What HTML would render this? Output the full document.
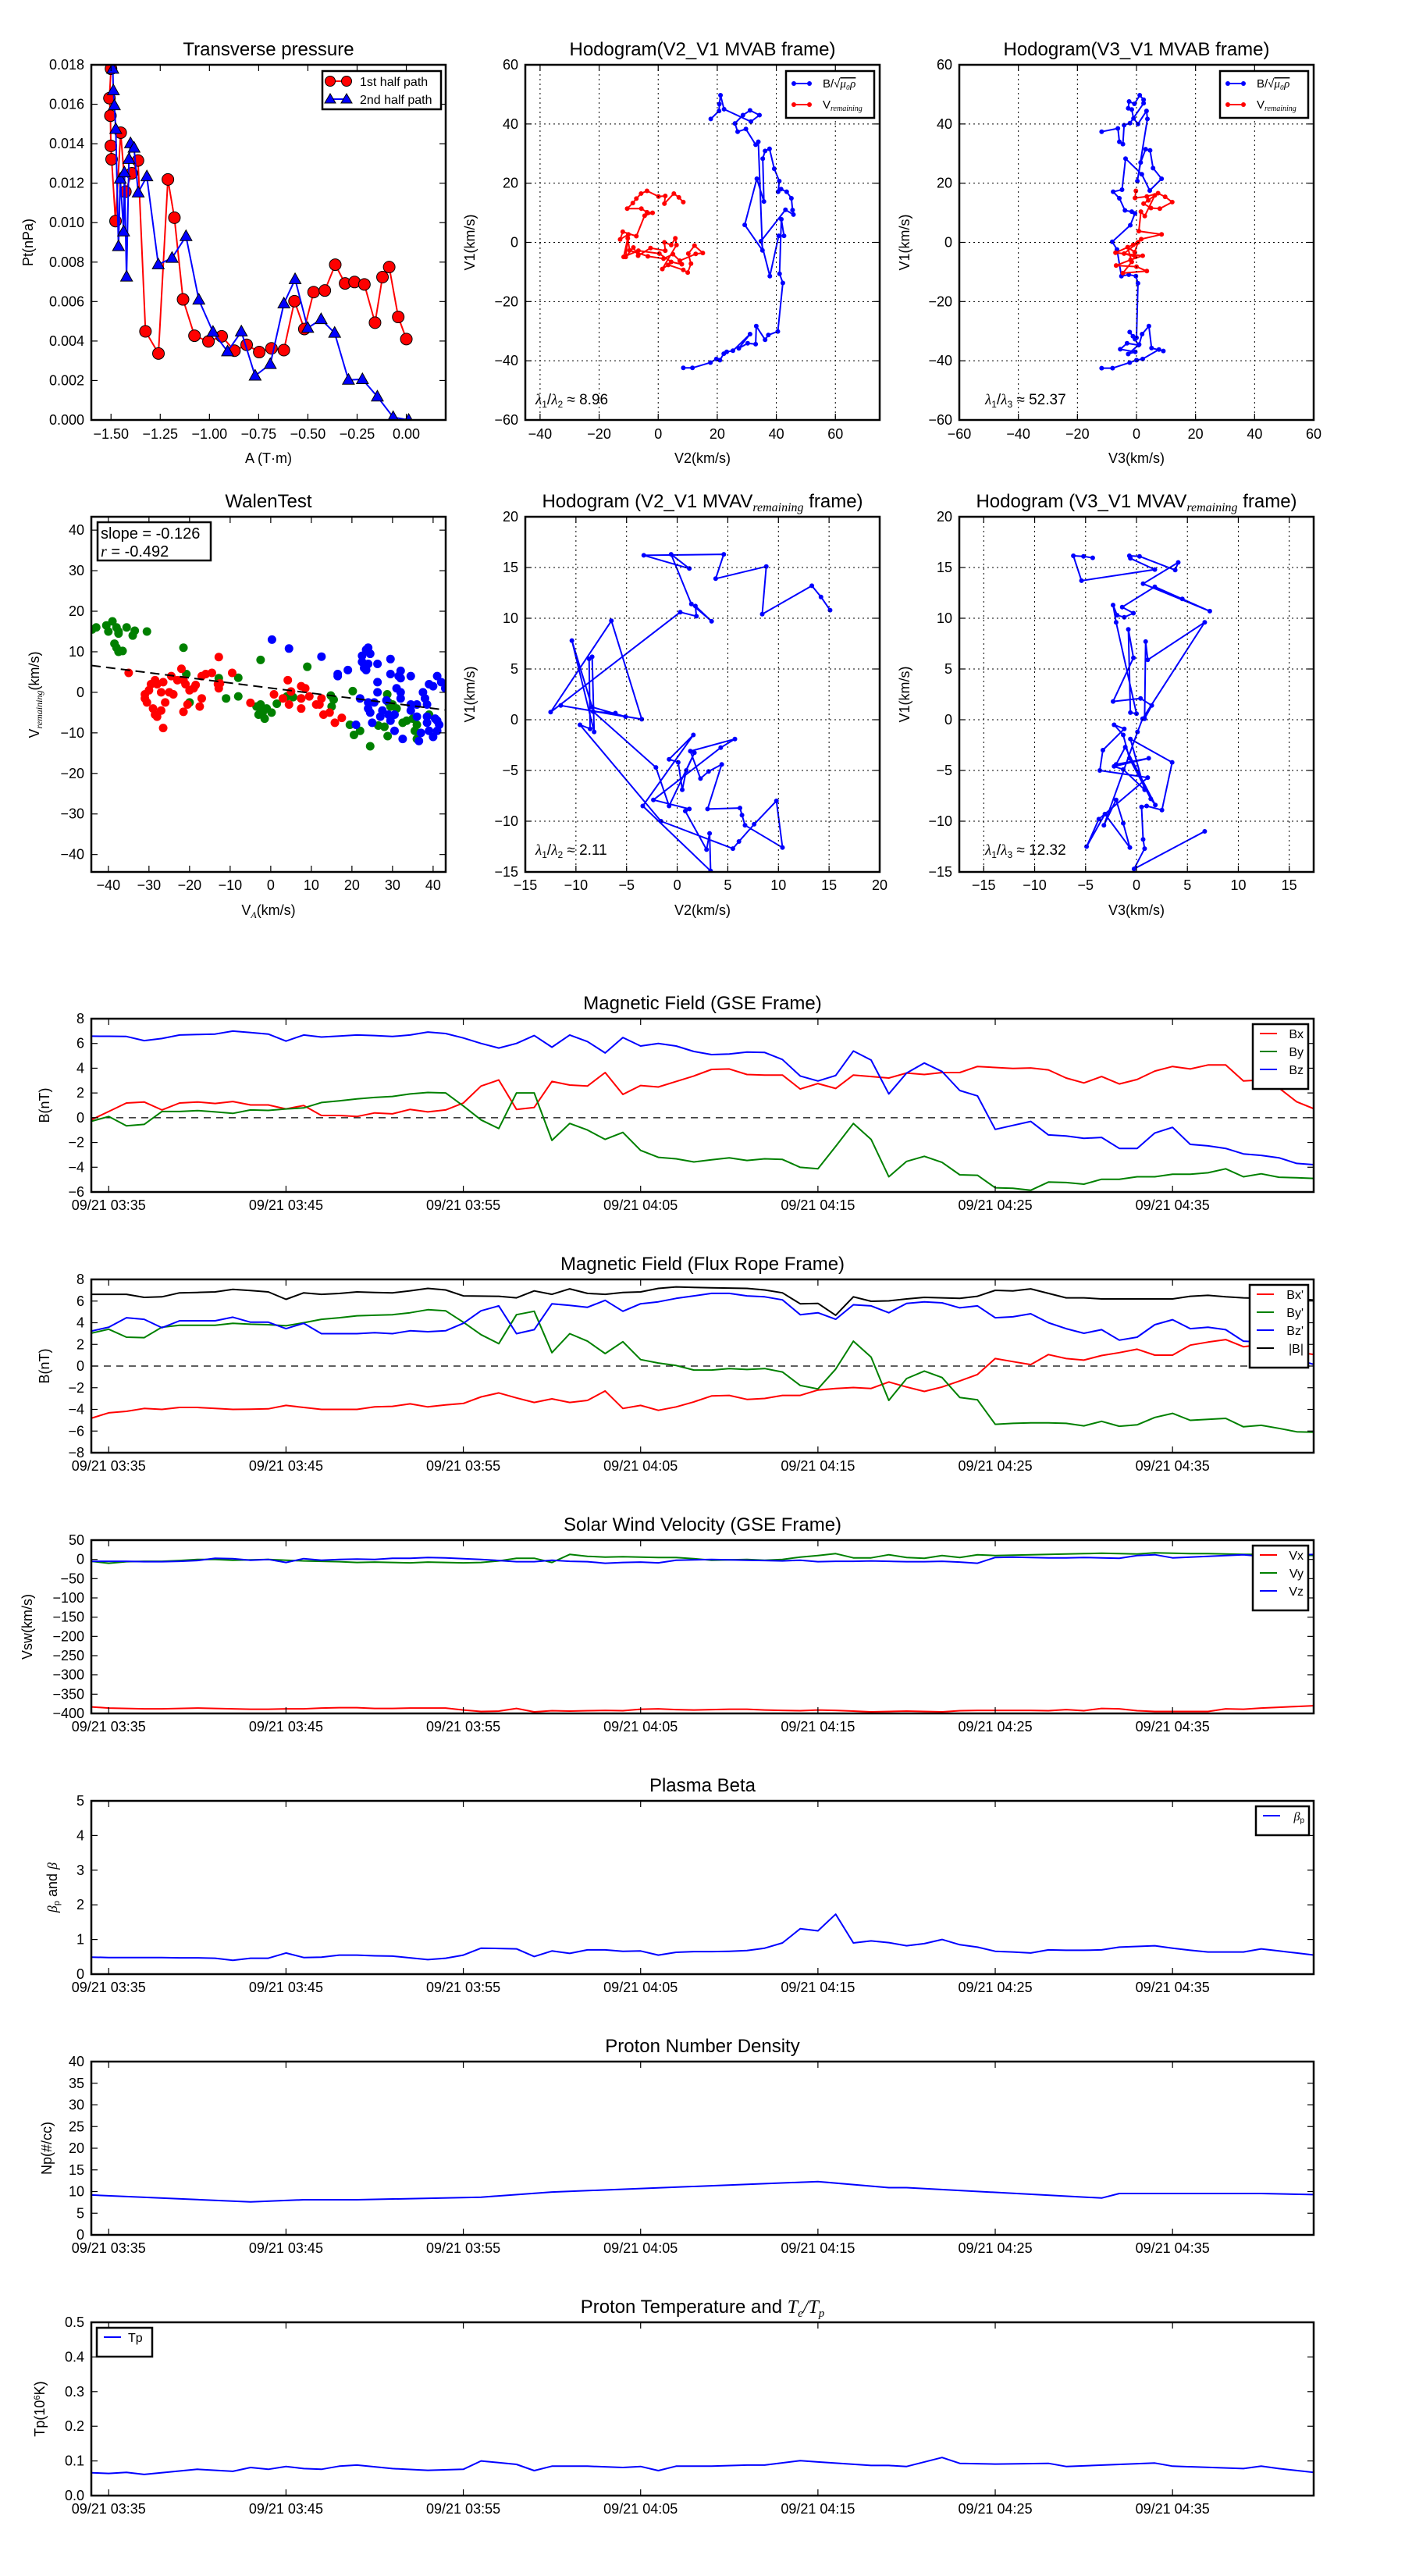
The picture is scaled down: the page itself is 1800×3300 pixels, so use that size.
<!DOCTYPE html>
<html><head><meta charset="utf-8"><style>
html,body{margin:0;padding:0;background:#fff}
svg{display:block;font-family:"Liberation Sans",sans-serif}
</style></head><body>
<svg id="fig" xmlns="http://www.w3.org/2000/svg" width="1800" height="3300" viewBox="0 0 1800 3300"></svg>
<script>
// ---------- DATA ----------
// Transverse pressure
const ptRedA=[-1.5,-1.508,-1.503,-1.501,-1.497,-1.477,-1.451,-1.427,-1.394,-1.363,-1.325,-1.259,-1.211,-1.178,-1.134,-1.076,-1.005,-0.938,-0.873,-0.811,-0.747,-0.685,-0.622,-0.568,-0.518,-0.471,-0.414,-0.361,-0.311,-0.263,-0.213,-0.159,-0.121,-0.087,-0.041,0];
const ptRedP=[0.0178,0.01631,0.01542,0.01389,0.01321,0.01008,0.01456,0.01157,0.0125,0.01315,0.00449,0.00337,0.01219,0.01025,0.00611,0.00427,0.00398,0.00424,0.00351,0.00381,0.00344,0.00363,0.00354,0.00602,0.00461,0.00648,0.00656,0.00787,0.00692,0.00699,0.00687,0.00493,0.00724,0.00775,0.00522,0.0041];
const ptBlueA=[-1.491,-1.488,-1.483,-1.476,-1.462,-1.453,-1.436,-1.432,-1.421,-1.409,-1.401,-1.383,-1.362,-1.318,-1.26,-1.19,-1.119,-1.054,-0.982,-0.908,-0.838,-0.768,-0.691,-0.622,-0.565,-0.501,-0.433,-0.364,-0.294,-0.223,-0.147,-0.067,0.012];
const ptBlueP=[0.01779,0.0167,0.01594,0.01474,0.0088,0.01222,0.00955,0.01254,0.00726,0.01322,0.01402,0.01379,0.01152,0.01234,0.00788,0.00821,0.00931,0.00609,0.00446,0.00347,0.00448,0.00224,0.00283,0.0059,0.00713,0.00466,0.0051,0.00441,0.00203,0.00206,0.00118,0.00014,0];
const ptXTicks=[-1.5,-1.25,-1,-0.75,-0.5,-0.25,0];
const ptYTicks=[0,0.002,0.004,0.006,0.008,0.010,0.012,0.014,0.016,0.018];
// Hodogram V2-V1 MVAB
const h1BV2=[8.5,11.6,17.7,19.7,20.9,22.2,23.2,25.3,31.1,27.3,30.3,33.0,33.2,36.2,37.3,40.5,42.2,41.1,41.7,42.6,40.8,37.8,34.8,43.1,45.8,45.5,45.1,43.5,41.6,40.6,41.0,39.3,37.7,36.2,35.4,35.8,33.4,29.3,35.3,33.9,33.0,29.7,26.9,26.0,28.7,31.1,34.3,31.4,22.3,21.1,20.7,20.6,17.8];
const h1BV1=[-42.4,-42.4,-40.6,-39.4,-39.8,-37.6,-37.0,-36.6,-31.0,-35.8,-34.1,-34.4,-28.3,-32.9,-31.3,-30.1,-13.7,-10.6,7.8,2.2,2.2,-11.4,0.4,11.0,9.4,10.9,14.9,17.1,18.0,17.1,20.7,24.9,31.6,30.9,28.3,13.8,21.5,5.9,-2.7,34.0,33.0,38.3,37.4,40.2,43.0,44.6,43.0,40.8,45.0,49.7,46.7,44.4,41.7];
const h1VV2=[8.5,7.0,5.3,2.1,2.4,0.1,-3.8,-5.8,-7.4,-8.6,-10.5,-5.7,-3.8,-1.9,-4.6,-7.4,-12.0,-12.9,-10.1,-11.0,-8.4,-6.8,-2.6,2.4,2.1,4.4,5.8,6.2,1.4,3.4,8.5,10.0,11.1,10.2,12.3,15.1,12.7,7.3,5.0,1.8,-3.5,-9.7,-10.3,-11.7,-6.7,0.4,4.4,8.0];
const h1VV1=[13.6,15.2,16.5,13.1,15.7,15.5,17.4,16.5,14.8,13.3,11.4,11.4,10.2,10.0,9.0,2.1,3.6,1.0,2.7,-4.9,-1.7,-4.5,-1.9,-2.8,0,-0.9,1.4,-0.9,-9.0,-7.6,-9.3,-10.2,-7.2,-3.8,-1.1,-3.6,-3.9,-6.2,-4.0,-5.5,-4.7,-2.7,1.4,-4.9,-2.8,-3.8,-6.6,-7.4];
// Hodogram V3-V1 MVAB
const h2BV3=[-11.8,-8.1,-2.3,0,2.1,7.6,9.1,5.1,4.2,1.9,0.9,-2.8,-0.4,-5.5,-3.2,0.7,-0.5,-2.3,-1.2,0,0.5,-0.2,-2.6,-5.1,-6.6,-8.2,-2.1,-0.5,-1.6,-3.9,-5.8,-7.9,-4.9,-3.7,1.8,4.5,8.5,5.6,4.6,3.1,1.4,0.3,3.7,3.4,0.5,-1.0,-1.6,-2.8,-2.5,-0.7,1.1,2.4,2.4,-2.2,-4.2,-4.6,-5.8,-6.3,-11.8];
const h2BV1=[-42.5,-42.5,-40.6,-39.8,-39.4,-36.2,-36.7,-35.7,-28.3,-31.0,-34.5,-37.7,-37.0,-36.1,-34.1,-34.7,-32.7,-30.3,-31.7,-32.2,-13.8,-11.4,-10.9,-11.4,-2.4,0.2,5.8,9.8,10.4,10.8,14.9,17.1,17.8,28.3,23.0,17.5,21.5,25.1,31.1,31.5,27.0,20.7,41.7,44.4,40.0,41.9,44.9,45.3,47.6,46.8,49.7,48.2,47.0,40.3,39.6,33.2,34.0,38.5,37.4];
const h2VV3=[-0.2,-0.5,3.5,7.3,9.7,12.1,7.9,4.9,2.4,4.0,6.2,2.8,1.5,0.8,8.5,1.6,-1.1,-7.1,2.1,-2.0,-6.9,0,3.5,-4.6,-1.6,-3.0,-0.6,0.5,-4.2,-0.4];
const h2VV1=[17.4,15.0,15.5,16.6,15.4,13.6,11.4,11.6,13.1,14.2,15.9,8.9,10.4,3.8,2.7,1.1,-0.8,-3.5,-4.5,-5.9,-7.8,-8.2,-9.7,-10.4,-6.6,-1.6,-3.3,0,-3.8,-4.9];
// Walen test
const walGreenX=[-44,-43,-40.5,-40,-39,-38,-37.5,-37.5,-38.5,-38,-37.5,-36.5,-35.5,-34,-33.5,-30.5,-21.5,-20.8,-20,-12.8,-11,-8,-8,-2.5,-3.5,-2.5,-2,-3,-1.5,-2,-1,0.2,1.5,4,5.5,7.5,9,14.8,15.5,15,19.5,20.2,20.5,22,24.5,26.5,28,28.7,29,28.8,29.5,30,31,32.5,33.5,35,35.5,36,36,39];
const walGreenY=[15.5,16,16.5,15,17.5,16,15,14.5,12,11,10,10.2,16,14,15.2,15,11,4.5,-2.5,3.5,-1.5,3.6,-1,8,-3.5,-3,-4.5,-5.5,-6.5,-5,-4,-5,-2.8,-1,-1.2,-1.5,6.3,-0.8,-1.8,-3.5,-8,0.3,-10.5,-9.5,-13.3,-8.2,-8.5,-0.5,-2.5,-10.8,-3.5,-3,-4,-7.5,-7,-6.5,-9.5,-8,-11.5,-5.5];
const walRedX=[-35,-31,-31,-30.5,-30,-29.5,-28.5,-28,-29,-28.5,-28,-27,-26.5,-26,-26.5,-27,-25,-24,-24.5,-23,-22,-21.5,-21,-21.5,-20.5,-20,-19,-18.5,-17,-17,-17.5,-16,-14.5,-13,-12.5,-12.8,-12.8,-9.5,-5,0.8,4.2,4.5,7.5,8.5,7.5,7.5,9.5,11.2,12,12.5,13,14.5,15.8,17.5,3,5];
const walRedY=[4.8,-0.5,-1.5,-2.5,0.5,2,3,2,-4,-5.5,-6,-4.5,-8.8,-2.5,2.5,0,0,-0.5,4,3,5.8,3,2,-4.8,-3,0.5,1,1.8,4,-1.5,-3.5,4.5,4.8,2,2.2,8.7,1,4.8,-2.6,-0.5,3,-3,1.5,1,-1.5,-4,-1,-3,-3,-1.5,-5.5,-5,-7.5,-6.3,-1.5,0.2];
const walBlueX=[0.3,4.5,12.5,16.5,16.5,19,22,21,22.5,22.5,23,23.5,24,24.5,24,23.5,24,24,24.5,25,25.5,26.3,26.3,26.3,27,27.5,28.5,29,29.5,29.5,29.5,30.5,30.5,31,31.5,32,32,32,32,32.5,34.5,34.5,34.5,36,36,37,36.5,37.5,38,38.5,38.5,38.5,39,39,40,40,40.5,41,41,41,41.5,42,43];
const walBlueY=[13,10.8,8.8,4.5,4,5.5,-1.5,-8,9,7.5,6,10.5,11,9.5,7,5.5,-2.5,-4,-5,-7.5,-2.5,7,2.5,0,-6,-4.5,-2,-5.5,8.2,4.5,-7,-5.5,-9.5,1,4,5.3,3.5,0,-1.5,-11.5,4,-3,-4.5,-3,-6,-10,-12,0,-1.5,-3,-6,-7.5,-9.5,2,-11,1.5,-6.5,4,-7,-9.5,-8,2.5,1];
const walFit=[-0.126,1.06];
const walTicks=[-40,-30,-20,-10,0,10,20,30,40];
// Hodogram MVAV V2-V1
const h3V2=[15.1,14.2,13.3,8.4,8.8,3.8,4.6,-3.3,1.2,-0.6,1.4,3.4,1.8,1.9,0.3,-12.5,-6.5,-3.5,-11.5,-5.1,-8.4,-10.4,-8.2,-8.4,-8.7,-8.6,-9.6,-1.6,5.5,6.1,7.6,9.8,10.4,6.7,6.4,6.2,3.0,4.4,3.1,2.3,1.3,5.7,4.3,-2.35,1.2,0.8,2.9,3.2,3.3,-3.4,1.6,-0.8,0.1,0.5,0.9,1.7,-0.8,-2.1,-8.3,-6.1];
const h3V1=[10.8,12.1,13.2,10.4,15.1,13.9,16.3,16.2,14.9,16.3,11.4,9.7,11.2,10.2,10.6,0.75,9.75,0.05,1.4,0.3,1.25,7.8,-1.2,6.2,6.0,-0.9,-0.5,-10.0,-12.7,-12.0,-10.3,-8.0,-12.6,-10.4,-9.4,-8.7,-8.8,-4.4,-5.1,-5.8,-3.1,-1.9,-2.75,-7.9,-8.8,-9.0,-12.8,-11.2,-14.9,-8.5,-1.5,-3.9,-4.2,-6.9,-5.0,-3.25,-8.5,-4.7,0.8,0.65];
// Hodogram MVAV V3-V1
const h4V3=[6.7,-0.24,0.8,0.65,0.5,1.0,2.5,3.5,-0.6,0.8,-1.3,-2.2,1.2,-2.0,-1.1,1.85,1.4,-0.7,-1.3,-2.2,-1.2,-3.3,-3.6,1.1,-3.7,-4.9,-3.1,-0.65,-1.3,-2.0,-3.2,0.1,0.6,6.7,1.1,0.9,0.8,1.5,0.4,-2.3,-0.3,-0.8,-0.6,0,-2.0,-2.3,-1.9,-1.2,-0.3,-1.4,1.8,4.5,7.2,0.65,4.1,3.8,0.3,-0.7,-0.6,1.8,-5.4,-6.2,-5.2,-4.3];
const h4V1=[-11.0,-14.7,-12.7,-11.8,-8.6,-8.5,-8.9,-4.2,-1.9,-6.9,-4.9,-4.6,-3.8,-4.4,-2.7,-8.4,-7.8,-3.8,-1.5,-0.5,-0.9,-3.0,-5.0,-5.7,-9.8,-12.5,-9.3,-12.6,-10.2,-7.9,-10.4,-1.2,0.1,9.6,5.9,7.7,0.1,1.4,2.1,1.8,6.1,8.9,0.7,0.6,9.6,11.3,10.3,10.1,10.5,11.1,13.1,11.9,10.7,13.4,15.5,14.75,16.1,16.15,15.9,14.8,13.7,16.15,16.1,15.95];
// Time series (minutes from 03:35, 1-min cadence k=-1..68)
const tsMinutes=[-1,0,1,2,3,4,5,6,7,8,9,10,11,12,13,14,15,16,17,18,19,20,21,22,23,24,25,26,27,28,29,30,31,32,33,34,35,36,37,38,39,40,41,42,43,44,45,46,47,48,49,50,51,52,53,54,55,56,57,58,59,60,61,62,63,64,65,66,67,68];
const timeTicks=[0,10,20,30,40,50,60];
const timeTickLabels=["09/21 03:35","09/21 03:45","09/21 03:55","09/21 04:05","09/21 04:15","09/21 04:25","09/21 04:35"];
const gseBx=[-0.18,0.5,1.19,1.27,0.63,1.19,1.27,1.15,1.31,1.03,1.03,0.71,0.99,0.18,0.18,0.1,0.39,0.31,0.67,0.47,0.63,1.19,2.56,3.05,0.67,0.83,2.93,2.64,2.56,3.65,1.88,2.6,2.48,2.93,3.37,3.9,3.94,3.49,3.45,3.45,2.32,2.76,2.36,3.45,3.33,3.21,3.61,3.49,3.65,3.65,4.14,4.06,3.98,4.02,3.86,3.21,2.81,3.33,2.73,3.09,3.77,4.14,3.94,4.26,4.26,2.97,3.05,2.4,1.29,0.71];
const gseBy=[-0.3,0.1,-0.66,-0.54,0.5,0.5,0.58,0.47,0.35,0.63,0.59,0.71,0.79,1.23,1.36,1.52,1.64,1.72,1.92,2.04,2.0,0.95,-0.18,-0.87,2.0,2.0,-1.83,-0.46,-0.99,-1.75,-1.19,-2.64,-3.2,-3.32,-3.57,-3.4,-3.24,-3.45,-3.32,-3.37,-4.01,-4.13,-2.32,-0.46,-1.75,-4.77,-3.53,-3.12,-3.61,-4.61,-4.65,-5.66,-5.7,-5.86,-5.2,-5.24,-5.37,-4.97,-4.97,-4.77,-4.77,-4.57,-4.57,-4.45,-4.13,-4.77,-4.53,-4.81,-4.85,-4.9];
const gseBz=[6.59,6.58,6.56,6.23,6.4,6.68,6.72,6.76,7.0,6.88,6.76,6.19,6.68,6.52,6.6,6.68,6.64,6.56,6.68,6.92,6.8,6.44,6.0,5.63,6.0,6.64,5.7,6.68,6.15,5.23,6.48,5.79,6.0,5.79,5.35,5.1,5.15,5.31,5.27,4.7,3.37,2.97,3.41,5.39,4.66,1.92,3.61,4.42,3.73,2.2,1.76,-0.94,-0.62,-0.3,-1.39,-1.47,-1.67,-1.59,-2.48,-2.48,-1.23,-0.78,-2.15,-2.27,-2.48,-2.92,-3.04,-3.24,-3.69,-3.8];
const frBx=[-4.83,-4.32,-4.18,-3.91,-4.0,-3.82,-3.82,-3.91,-4.0,-3.98,-3.95,-3.63,-3.82,-4.0,-4.0,-4.0,-3.77,-3.72,-3.49,-3.77,-3.59,-3.45,-2.85,-2.48,-2.94,-3.36,-3.03,-3.36,-3.17,-2.3,-3.91,-3.63,-4.09,-3.77,-3.31,-2.76,-2.71,-3.08,-2.99,-2.71,-2.71,-2.21,-2.07,-1.98,-2.07,-1.47,-1.93,-2.34,-1.93,-1.38,-0.78,0.69,0.41,0.14,1.06,0.69,0.55,0.97,1.24,1.56,1.01,1.01,1.93,2.21,2.44,1.79,1.98,1.75,1.29,1.06];
const frBy=[3.03,3.4,2.67,2.62,3.59,3.77,3.77,3.77,3.95,3.86,3.82,3.72,4.0,4.32,4.46,4.64,4.69,4.74,4.92,5.2,5.1,4.05,2.9,2.07,4.74,5.06,1.24,2.99,2.3,1.15,2.25,0.6,0.28,0.05,-0.37,-0.37,-0.23,-0.32,-0.23,-0.55,-1.79,-2.11,-0.28,2.3,0.83,-3.17,-1.15,-0.46,-1.06,-2.9,-3.12,-5.38,-5.29,-5.24,-5.24,-5.29,-5.52,-5.1,-5.56,-5.43,-4.74,-4.37,-5.01,-4.92,-4.83,-5.61,-5.47,-5.75,-6.07,-6.11];
const frBz=[3.22,3.59,4.46,4.32,3.54,4.18,4.18,4.18,4.51,4.05,4.05,3.45,3.95,2.99,2.99,2.99,3.08,2.99,3.26,3.17,3.26,3.95,5.1,5.56,2.99,3.36,5.75,5.61,5.43,6.07,5.06,5.75,5.93,6.25,6.48,6.71,6.71,6.48,6.39,6.11,4.74,4.92,4.32,5.66,5.56,4.92,5.79,5.93,5.84,5.38,5.56,4.46,4.55,4.83,4.0,3.45,3.03,3.36,2.39,2.67,3.82,4.28,3.45,3.59,3.36,2.3,2.21,1.52,0.6,0.14];
const frBmag=[6.62,6.62,6.62,6.34,6.39,6.76,6.8,6.85,7.08,6.97,6.85,6.16,6.76,6.62,6.7,6.85,6.8,6.76,6.95,7.17,7.03,6.48,6.46,6.44,6.3,6.94,6.62,7.13,6.71,6.62,6.8,6.85,7.17,7.31,7.26,7.22,7.2,7.17,7.03,6.76,5.75,5.79,4.69,6.39,5.98,6.02,6.2,6.34,6.3,6.25,6.44,6.99,6.94,7.13,6.71,6.3,6.3,6.2,6.2,6.2,6.2,6.2,6.44,6.53,6.39,6.3,6.25,6.2,6.2,6.1];
const velVx=[-383,-386,-387,-388,-388,-387,-386,-387,-388,-389,-389,-388,-388,-386,-385,-385,-387,-387,-386,-386,-386,-391,-395,-394,-387,-396,-393,-394,-393,-392,-393,-389,-388,-390,-391,-390,-389,-389,-391,-392,-393,-391,-392,-394,-396,-395,-394,-395,-396,-393,-392,-392,-392,-392,-393,-390,-393,-387,-388,-393,-395,-395,-395,-395,-388,-389,-386,-384,-382,-380];
const velVy=[-5,-10,-6,-5,-5,-3,0,0,-2,-1,0,-2,-4,-5,-6,-8,-7,-8,-9,-7,-8,-9,-8,-4,3,3,-8,13,8,6,7,6,5,5,2,-2,-1,0,-2,0,6,10,15,4,4,12,5,3,10,5,12,10,11,12,13,14,15,16,15,14,17,16,15,15,14,13,13,15,11,10];
const velVz=[-5,-5,-5,-6,-6,-5,-3,3,2,-2,0,-8,2,-2,0,1,0,3,3,5,4,2,0,-3,-6,-6,-2,-5,-6,-10,-8,-7,-9,-2,-1,0,-1,-2,-3,-4,-2,-6,-5,-5,-4,-5,-6,-6,-5,-7,-10,5,6,5,4,4,5,4,3,10,12,4,6,8,10,12,8,10,12,13];
const betaP=[0.49,0.48,0.48,0.48,0.48,0.47,0.47,0.46,0.4,0.46,0.46,0.61,0.48,0.49,0.55,0.55,0.53,0.52,0.47,0.42,0.46,0.55,0.75,0.74,0.73,0.51,0.67,0.6,0.7,0.7,0.66,0.67,0.55,0.63,0.65,0.65,0.66,0.68,0.75,0.9,1.31,1.25,1.73,0.9,0.96,0.91,0.82,0.88,1.0,0.85,0.78,0.66,0.64,0.61,0.7,0.69,0.69,0.7,0.78,0.8,0.82,0.75,0.69,0.64,0.64,0.64,0.73,0.67,0.61,0.55];
const densT=[-0.98,8,11,14,21,25,40,44,45,56,57,65,68];
const densV=[9.2,7.6,8.1,8.1,8.7,9.9,12.3,10.9,10.9,8.5,9.55,9.55,9.3];
const tempT=[-0.98,0,1,2,5,7,8,9,10,11,12,13,14,16,18,20,21,23,24,25,27,29,30,31,32,34,36,37,39,40,43,44,45,47,48,50,53,54,59,60,64,65,66,68];
const tempV=[0.066,0.064,0.067,0.061,0.076,0.07,0.081,0.076,0.084,0.078,0.076,0.085,0.088,0.078,0.073,0.076,0.1,0.09,0.072,0.085,0.085,0.081,0.084,0.072,0.085,0.085,0.088,0.088,0.101,0.097,0.087,0.087,0.084,0.11,0.093,0.091,0.093,0.084,0.094,0.085,0.078,0.085,0.078,0.067];

// ---------- DRAWING ----------
const NS="http://www.w3.org/2000/svg";
const svg=document.getElementById('fig');
function mk(tag,parent,name,attrs){
  const e=document.createElementNS(NS,tag);
  for(const k in attrs) e.setAttribute(k,attrs[k]);
  
  
  parent.appendChild(e);return e;
}
function txt(parent,name,x,y,s,size,anchor,extra){
  const t=mk('text',parent,name,Object.assign({x:x,y:y,'font-size':size,'text-anchor':anchor||'middle',fill:'#000'},extra||{}));
  t.textContent=s;return t;
}
function fmt(v,d){const s=Math.abs(v).toFixed(d);return (v<0?'\u2212':'')+s;}
let clipId=0;
function panel(name,x0,y0,w,h,xmin,xmax,ymin,ymax){
  const g=mk('g',svg,name,{});
  const p={g,x0,y0,w,h,sx:v=>x0+(v-xmin)/(xmax-xmin)*w,sy:v=>y0+h-(v-ymin)/(ymax-ymin)*h};
  const id='c'+(clipId++);
  const cp=mk('clipPath',g,name+'-clip',{id});
  mk('rect',cp,name+'-clip-rect',{x:x0,y:y0,width:w,height:h});
  p.plot=mk('g',g,name+'-plot-area',{'clip-path':'url(#'+id+')'});
  return p;
}
function frame(p,xt,yt,xlab,ylab,opt){
  const g=p.g;opt=opt||{};
  if(opt.grid){
    xt.forEach(v=>mk('line',g,'x-grid-line',{x1:p.sx(v),x2:p.sx(v),y1:p.y0,y2:p.y0+p.h,stroke:'#000','stroke-width':1,'stroke-dasharray':'2,4'}));
    yt.forEach(v=>mk('line',g,'y-grid-line',{y1:p.sy(v),y2:p.sy(v),x1:p.x0,x2:p.x0+p.w,stroke:'#000','stroke-width':1,'stroke-dasharray':'2,4'}));
  }
  xt.forEach((v,i)=>{const X=p.sx(v);
    mk('line',g,'x-tick',{x1:X,x2:X,y1:p.y0+p.h,y2:p.y0+p.h-8,stroke:'#000','stroke-width':1.2});
    mk('line',g,'x-tick-top',{x1:X,x2:X,y1:p.y0,y2:p.y0+8,stroke:'#000','stroke-width':1.2});
    txt(g,'x-tick-label',X,p.y0+p.h+(opt.xlOff||24),opt.xlabels?opt.xlabels[i]:fmt(v,opt.xd||0),18);
  });
  yt.forEach(v=>{const Y=p.sy(v);
    mk('line',g,'y-tick',{x1:p.x0,x2:p.x0+8,y1:Y,y2:Y,stroke:'#000','stroke-width':1.2});
    mk('line',g,'y-tick-right',{x1:p.x0+p.w,x2:p.x0+p.w-8,y1:Y,y2:Y,stroke:'#000','stroke-width':1.2});
    txt(g,'y-tick-label',p.x0-9,Y+6,fmt(v,opt.yd||0),18,'end');
  });
  mk('rect',g,'axes-frame',{x:p.x0,y:p.y0,width:p.w,height:p.h,fill:'none',stroke:'#000','stroke-width':2.5});
  if(xlab) txt(g,'x-axis-title',p.x0+p.w/2,opt.xlabY||(p.y0+p.h+56),xlab,18);
  if(ylab){const lx=opt.ylabX||(p.x0-70),ly=p.y0+p.h/2;
    const t=txt(g,'y-axis-title',lx,ly,'',18,'middle',{transform:'rotate(-90 '+lx+' '+ly+')'});
    t.innerHTML=ylab;}
}
function title(p,html,size,dy){const t=txt(p.g,'chart-title',p.x0+p.w/2,p.y0-(dy||11),'',size||24);t.innerHTML=html;return t;}
function line(p,xs,ys,color,name,w){
  const pts=xs.map((x,i)=>p.sx(x).toFixed(1)+','+p.sy(ys[i]).toFixed(1)).join(' ');
  return mk('polyline',p.plot,name,{points:pts,fill:'none',stroke:color,'stroke-width':w||2,'stroke-linejoin':'round'});
}
function dots(p,xs,ys,color,name,r,stroke){
  xs.forEach((x,i)=>mk('circle',p.plot,name,{cx:p.sx(x),cy:p.sy(ys[i]),r:r,fill:color,stroke:stroke||'none','stroke-width':1}));
}
function tris(p,xs,ys,color,name,s){
  xs.forEach((x,i)=>{const X=p.sx(x),Y=p.sy(ys[i]);
    mk('polygon',p.plot,name,{points:(X)+','+(Y-s)+' '+(X-s*0.95)+','+(Y+s*0.7)+' '+(X+s*0.95)+','+(Y+s*0.7),fill:color,stroke:'#000','stroke-width':1});});
}
function legendBox(g,name,x,y,w,h){return mk('rect',g,name,{x,y,width:w,height:h,fill:'#fff',stroke:'#000','stroke-width':2.5});}

// --- Panel 1: Transverse pressure
{const p=panel('transverse-pressure-chart',117,83,454,455,-1.6,0.2,0,0.018);
 line(p,ptRedA,ptRedP,'#ff0000','first-half-path-line');
 dots(p,ptRedA,ptRedP,'#ff0000','first-half-path-marker',7.5,'#000');
 line(p,ptBlueA,ptBlueP,'#0000ff','second-half-path-line');
 tris(p,ptBlueA,ptBlueP,'#0000ff','second-half-path-marker',8);
 frame(p,ptXTicks,ptYTicks,'A (T\u00b7m)','Pt(nPa)',{xd:2,yd:3,ylabX:42,xlabY:593});
 title(p,'Transverse pressure',24,12);
 const lg=mk('g',p.g,'pressure-legend',{});legendBox(lg,'legend-box',413,91,152,49);
 mk('line',lg,'legend-line',{x1:423,x2:444,y1:104,y2:104,stroke:'#ff0000','stroke-width':2});
 mk('circle',lg,'legend-marker',{cx:423,cy:104,r:6.5,fill:'#ff0000',stroke:'#000'});mk('circle',lg,'legend-marker',{cx:444,cy:104,r:6.5,fill:'#ff0000',stroke:'#000'});
 txt(lg,'legend-entry',461,110,'1st half path',16,'start');
 mk('line',lg,'legend-line',{x1:423,x2:444,y1:127,y2:127,stroke:'#0000ff','stroke-width':2});
 [423,444].forEach(X=>mk('polygon',lg,'legend-marker',{points:X+','+(127-7)+' '+(X-7)+','+(127+5)+' '+(X+7)+','+(127+5),fill:'#0000ff',stroke:'#000'}));
 txt(lg,'legend-entry',461,133,'2nd half path',16,'start');
}
function hodoLegend(p,x,name){
 const lg=mk('g',p.g,name,{});legendBox(lg,'legend-box',x,91,113,60);
 mk('line',lg,'legend-line',{x1:x+10,x2:x+30,y1:107,y2:107,stroke:'#0000ff','stroke-width':2});
 mk('circle',lg,'legend-marker',{cx:x+10,cy:107,r:3,fill:'#0000ff'});mk('circle',lg,'legend-marker',{cx:x+30,cy:107,r:3,fill:'#0000ff'});
 const t1=txt(lg,'legend-entry',x+47,112,'',15,'start');t1.innerHTML='B/\u221a<tspan font-family="Liberation Serif" font-style="italic" text-decoration="overline">\u03bc\u2080\u03c1</tspan>';
 mk('line',lg,'legend-line',{x1:x+10,x2:x+30,y1:134,y2:134,stroke:'#ff0000','stroke-width':2});
 mk('circle',lg,'legend-marker',{cx:x+10,cy:134,r:3,fill:'#ff0000'});mk('circle',lg,'legend-marker',{cx:x+30,cy:134,r:3,fill:'#ff0000'});
 const t2=txt(lg,'legend-entry',x+47,139,'',15,'start');t2.innerHTML='V<tspan font-family="Liberation Serif" font-style="italic" font-size="10" dy="3">remaining</tspan>';
}
function lam(p,x,y,s){const t=txt(p.g,'eigenvalue-ratio-label',x,y,'',19,'start');t.innerHTML=s;}
// --- Panel 2
{const ticks=[-40,-20,0,20,40,60];
 const p=panel('hodogram-v2-v1-mvab-chart',673,83,454,455,-45,75,-60,60);
 line(p,h1BV2,h1BV1,'#0000ff','b-alfven-line');dots(p,h1BV2,h1BV1,'#0000ff','b-alfven-point',3);
 line(p,h1VV2,h1VV1,'#ff0000','v-remaining-line');dots(p,h1VV2,h1VV1,'#ff0000','v-remaining-point',3);
 frame(p,ticks,[-60,-40,-20,0,20,40,60],'V2(km/s)','V1(km/s)',{grid:true,ylabX:608,xlabY:593});
 title(p,'Hodogram(V2_V1 MVAB frame)',24,12);hodoLegend(p,1007,'hodogram-legend');
 lam(p,686,518,'<tspan font-family="Liberation Serif" font-style="italic">\u03bb</tspan><tspan font-size="12" dy="4">1</tspan><tspan dy="-4">/</tspan><tspan font-family="Liberation Serif" font-style="italic">\u03bb</tspan><tspan font-size="12" dy="4">2</tspan><tspan dy="-4"> \u2248 8.96</tspan>');
}
// --- Panel 3
{const ticks=[-60,-40,-20,0,20,40,60];
 const p=panel('hodogram-v3-v1-mvab-chart',1229,83,454,455,-60,60,-60,60);
 line(p,h2BV3,h2BV1,'#0000ff','b-alfven-line');dots(p,h2BV3,h2BV1,'#0000ff','b-alfven-point',3);
 line(p,h2VV3,h2VV1,'#ff0000','v-remaining-line');dots(p,h2VV3,h2VV1,'#ff0000','v-remaining-point',3);
 frame(p,ticks,ticks,'V3(km/s)','V1(km/s)',{grid:true,ylabX:1165,xlabY:593});
 title(p,'Hodogram(V3_V1 MVAB frame)',24,12);hodoLegend(p,1563,'hodogram-legend');
 lam(p,1262,518,'<tspan font-family="Liberation Serif" font-style="italic">\u03bb</tspan><tspan font-size="12" dy="4">1</tspan><tspan dy="-4">/</tspan><tspan font-family="Liberation Serif" font-style="italic">\u03bb</tspan><tspan font-size="12" dy="4">3</tspan><tspan dy="-4"> \u2248 52.37</tspan>');
}
// --- Walen
{const p=panel('walen-test-chart',117,662,454,455,-44.2,43.1,-44.3,43.3);
 dots(p,walGreenX,walGreenY,'#008000','walen-point-green',5.5);
 dots(p,walRedX,walRedY,'#ff0000','walen-point-red',5.5);
 dots(p,walBlueX,walBlueY,'#0000ff','walen-point-blue',5.5);
 const fx=[-44.2,43.1];
 line(p,fx,fx.map(x=>walFit[0]*x+walFit[1]),'#000','regression-line',2).setAttribute('stroke-dasharray','12,7');
 frame(p,walTicks,walTicks,'','',{xlOff:23});
 const xl=txt(p.g,'x-axis-title',344,1172,'',18);xl.innerHTML='V<tspan font-family="Liberation Serif" font-style="italic" font-size="12" dy="4">A</tspan><tspan dy="-4">(km/s)</tspan>';
 const yl=txt(p.g,'y-axis-title',50,890,'',18,'middle',{transform:'rotate(-90 50 890)'});yl.innerHTML='V<tspan font-family="Liberation Serif" font-style="italic" font-size="12" dy="4">remaining</tspan><tspan dy="-4">(km/s)</tspan>';
 title(p,'WalenTest',24,12);
 const bg=mk('g',p.g,'fit-stats-box',{});legendBox(bg,'stats-box',125,669,145,49);
 txt(bg,'slope-label',129,690,'slope = -0.126',20,'start');
 const r=txt(bg,'correlation-label',129,713,'',20,'start');r.innerHTML='<tspan font-family="Liberation Serif" font-style="italic">r</tspan> = -0.492';
}
// --- Panel 5
{const p=panel('hodogram-v2-v1-mvav-chart',673,662,454,455,-15,20,-15,20);
 line(p,h3V2,h3V1,'#0000ff','hodogram-line');dots(p,h3V2,h3V1,'#0000ff','hodogram-point',3);
 const t=[-15,-10,-5,0,5,10,15,20];
 frame(p,t,t,'V2(km/s)','V1(km/s)',{grid:true,ylabX:608,xlabY:1172,xlOff:23});
 title(p,'Hodogram (V2_V1 MVAV<tspan font-family="Liberation Serif" font-style="italic" font-size="16" dy="5">remaining</tspan><tspan dy="-5"> frame)</tspan>',24,12);
 lam(p,686,1095,'<tspan font-family="Liberation Serif" font-style="italic">\u03bb</tspan><tspan font-size="12" dy="4">1</tspan><tspan dy="-4">/</tspan><tspan font-family="Liberation Serif" font-style="italic">\u03bb</tspan><tspan font-size="12" dy="4">2</tspan><tspan dy="-4"> \u2248 2.11</tspan>');
}
// --- Panel 6
{const p=panel('hodogram-v3-v1-mvav-chart',1229,662,454,455,-17.4,17.4,-15,20);
 line(p,h4V3,h4V1,'#0000ff','hodogram-line');dots(p,h4V3,h4V1,'#0000ff','hodogram-point',3);
 frame(p,[-15,-10,-5,0,5,10,15],[-15,-10,-5,0,5,10,15,20],'V3(km/s)','V1(km/s)',{grid:true,ylabX:1165,xlabY:1172,xlOff:23});
 title(p,'Hodogram (V3_V1 MVAV<tspan font-family="Liberation Serif" font-style="italic" font-size="16" dy="5">remaining</tspan><tspan dy="-5"> frame)</tspan>',24,12);
 lam(p,1262,1095,'<tspan font-family="Liberation Serif" font-style="italic">\u03bb</tspan><tspan font-size="12" dy="4">1</tspan><tspan dy="-4">/</tspan><tspan font-family="Liberation Serif" font-style="italic">\u03bb</tspan><tspan font-size="12" dy="4">3</tspan><tspan dy="-4"> \u2248 12.32</tspan>');
}
// --- Time series
function tsPanel(name,k,ymin,ymax,yt,ylab,ylabX,ttl,yd){
  const p=panel(name,117,1305+334*k,1566,222,-0.98,67.96,ymin,ymax);
  p.finish=()=>{frame(p,timeTicks,yt,'',ylab,{xlabels:timeTickLabels,ylabX:ylabX,xlOff:23,yd:yd||0});title(p,ttl,24,12);};
  return p;
}
function tsLegend(p,name,x,y,w,entries,right){
  const lg=mk('g',p.g,name,{});legendBox(lg,'legend-box',x,y,w,entries.length*23+14);
  entries.forEach((e,i)=>{const Y=y+12+i*23;
    mk('line',lg,'legend-line',{x1:x+9,x2:x+31,y1:Y,y2:Y,stroke:e[1],'stroke-width':2});
    const t=txt(lg,'legend-entry',right?x+w-6:x+40,Y+6,'',16,right?'end':'start');t.innerHTML=e[0];});
}
{const p=tsPanel('magnetic-field-gse-chart',0,-6,8,[-6,-4,-2,0,2,4,6,8],'B(nT)',63,'Magnetic Field (GSE Frame)');
 mk('line',p.plot,'zero-line',{x1:p.x0,x2:p.x0+p.w,y1:p.sy(0),y2:p.sy(0),stroke:'#000','stroke-width':1.3,'stroke-dasharray':'9,7'});
 line(p,tsMinutes,gseBx,'#ff0000','bx-line');line(p,tsMinutes,gseBy,'#008000','by-line');line(p,tsMinutes,gseBz,'#0000ff','bz-line');
 p.finish();tsLegend(p,'gse-legend',1605,1312,71,[['Bx','#ff0000'],['By','#008000'],['Bz','#0000ff']],true);}
{const p=tsPanel('magnetic-field-flux-rope-chart',1,-8,8,[-8,-6,-4,-2,0,2,4,6,8],'B(nT)',63,'Magnetic Field (Flux Rope Frame)');
 mk('line',p.plot,'zero-line',{x1:p.x0,x2:p.x0+p.w,y1:p.sy(0),y2:p.sy(0),stroke:'#000','stroke-width':1.3,'stroke-dasharray':'9,7'});
 line(p,tsMinutes,frBx,'#ff0000','bx-prime-line');line(p,tsMinutes,frBy,'#008000','by-prime-line');line(p,tsMinutes,frBz,'#0000ff','bz-prime-line');line(p,tsMinutes,frBmag,'#000','b-magnitude-line');
 p.finish();tsLegend(p,'flux-rope-legend',1601,1646,75,[["Bx'",'#ff0000'],["By'",'#008000'],["Bz'",'#0000ff'],['|B|','#000']],true);}
{const p=tsPanel('solar-wind-velocity-chart',2,-400,50,[-400,-350,-300,-250,-200,-150,-100,-50,0,50],'Vsw(km/s)',41,'Solar Wind Velocity (GSE Frame)');
 line(p,tsMinutes,velVx,'#ff0000','vx-line');line(p,tsMinutes,velVy,'#008000','vy-line');line(p,tsMinutes,velVz,'#0000ff','vz-line');
 p.finish();tsLegend(p,'velocity-legend',1605,1980,71,[['Vx','#ff0000'],['Vy','#008000'],['Vz','#0000ff']],true);}
{const p=tsPanel('plasma-beta-chart',3,0,5,[0,1,2,3,4,5],'<tspan font-family="Liberation Serif" font-style="italic">\u03b2</tspan><tspan font-size="11" dy="3">p</tspan><tspan dy="-3"> and </tspan><tspan font-family="Liberation Serif" font-style="italic">\u03b2</tspan>',73,'Plasma Beta');
 line(p,tsMinutes,betaP,'#0000ff','beta-p-line');
 p.finish();tsLegend(p,'beta-legend',1609,2314,68,[['<tspan font-family="Liberation Serif" font-style="italic">\u03b2</tspan><tspan font-size="10" dy="3">p</tspan>','#0000ff']],true);}
{const p=tsPanel('proton-density-chart',4,0,40,[0,5,10,15,20,25,30,35,40],'Np(#/cc)',66,'Proton Number Density');
 line(p,densT,densV,'#0000ff','density-line');p.finish();}
{const p=tsPanel('proton-temperature-chart',5,0,0.5,[0,0.1,0.2,0.3,0.4,0.5],'Tp(10<tspan font-size="11" dy="-6">6</tspan><tspan dy="6">K)</tspan>',57,'Proton Temperature and <tspan font-family="Liberation Serif" font-style="italic">T</tspan><tspan font-family="Liberation Serif" font-style="italic" font-size="15" dy="5">e</tspan><tspan dy="-5" font-family="Liberation Serif" font-style="italic">/T</tspan><tspan font-family="Liberation Serif" font-style="italic" font-size="15" dy="5">p</tspan>',1);
 line(p,tempT,tempV,'#0000ff','tp-line');
 p.finish();tsLegend(p,'temperature-legend',124,2982,71,[['Tp','#0000ff']],false);}
</script>
</body></html>
